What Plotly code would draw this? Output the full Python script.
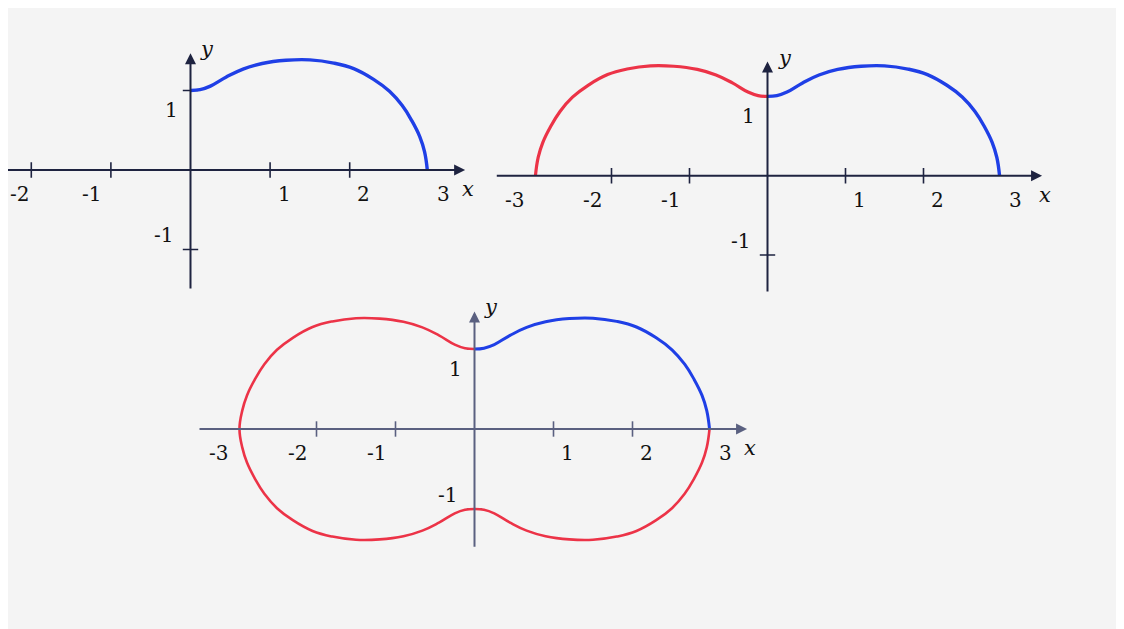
import plotly.graph_objects as go

# the page body adds an 8px margin, so the figure is drawn 8px smaller and shifted
OFF = 8
W, H = 1124 - OFF, 629 - OFF

# upper-right quarter of the curve
curve_x = [0.0, 0.12, 0.25, 0.45, 0.66, 0.9, 1.2, 1.5, 1.8, 2.05, 2.3, 2.5, 2.66, 2.78,
           2.88, 2.94, 2.975]
curve_y = [1.0, 1.01, 1.055, 1.17, 1.27, 1.34, 1.38, 1.385, 1.345, 1.275, 1.14, 0.99, 0.81, 0.62,
           0.42, 0.23, 0.0]

# tick positions / labels per panel
p1_xticks = [-2, -1, 1, 2]
p1_xlabels = ["-2", "-1", "1", "2", "3"]
p1_xlabel_pos = [-2, -1, 1, 2, 3]
p1_yticks = [1, -1]
p2_xticks = [-2, -1, 1, 2]
p2_xlabels = ["-3", "-2", "-1", "1", "2", "3"]
p2_xlabel_pos = [-3, -2, -1, 1, 2, 3]
p2_yticks = [-1]
p3_xticks = [-2, -1, 1, 2]
p3_xlabels = ["-3", "-2", "-1", "1", "2", "3"]
p3_xlabel_pos = [-3, -2, -1, 1, 2, 3]
p3_yticks = [1, -1]
ytick_labels = ["1", "-1"]
ytick_label_pos = [1, -1]

BLUE = "#1f3fe6"
RED = "#ec3347"
AX_DARK = "#1e2340"
AX_GRAY = "#5a6080"
FONT = "DejaVu Serif"

# panels: origin pixel (screen), unit sizes, data range, axis extents
panels = [
    dict(o=(190.5, 170), u=(79.6, 79.5), xr=[-2.29, 3.6], yr=[-1.6, 1.6],
         xa=(-2.35, 3.45), ya=(-1.51, 1.47), col=AX_DARK),
    dict(o=(767.5, 175.7), u=(78, 79.3), xr=[-3.6, 3.6], yr=[-1.55, 1.55],
         xa=(-3.49, 3.52), ya=(-1.48, 1.44), col=AX_DARK),
    dict(o=(474.5, 429), u=(79, 80), xr=[-3.6, 3.55], yr=[-1.6, 1.6],
         xa=(-3.5, 3.45), ya=(-1.49, 1.47), col=AX_GRAY),
]

fig = go.Figure()
layout = {}
annotations = []

for i, p in enumerate(panels, start=1):
    ox, oy = p["o"][0] - OFF, p["o"][1] - OFF
    ux, uy = p["u"]
    x0 = (ox + p["xr"][0] * ux) / W
    x1 = (ox + p["xr"][1] * ux) / W
    y0 = 1 - (oy - p["yr"][0] * uy) / H
    y1 = 1 - (oy - p["yr"][1] * uy) / H
    # keep the scale when a domain would spill past the paper
    if x0 < 0:
        p["xr"][0] = -ox / ux
        x0 = 0
    sfx = "" if i == 1 else str(i)
    layout["xaxis" + sfx] = dict(domain=[x0, min(1, x1)], range=p["xr"], visible=False,
                                 anchor="y" + sfx, fixedrange=True)
    layout["yaxis" + sfx] = dict(domain=[max(0, y0), min(1, y1)], range=p["yr"], visible=False,
                                 anchor="x" + sfx, fixedrange=True)
    xref, yref = "x" + sfx, "y" + sfx
    # axis lines with arrowheads
    annotations.append(dict(x=p["xa"][1], y=0, ax=p["xa"][0], ay=0, xref=xref, yref=yref,
                            axref=xref, ayref=yref, showarrow=True, arrowhead=2, arrowsize=1.1,
                            arrowwidth=2, arrowcolor=p["col"], text=""))
    annotations.append(dict(x=0, y=p["ya"][1], ax=0, ay=p["ya"][0], xref=xref, yref=yref,
                            axref=xref, ayref=yref, showarrow=True, arrowhead=2, arrowsize=1.1,
                            arrowwidth=2, arrowcolor=p["col"], text=""))
    # axis names
    annotations.append(dict(x=p["xa"][1], y=0, xref=xref, yref=yref, text="<i>x</i>",
                            showarrow=False, yshift=-19, xshift=3,
                            font=dict(family=FONT, size=21, color="#111")))
    annotations.append(dict(x=0, y=p["ya"][1], xref=xref, yref=yref, text="<i>y</i>",
                            showarrow=False, xshift=17, yshift=4,
                            font=dict(family=FONT, size=21, color="#111")))

# tick marks
def ticks(xt, yt, sfx, col):
    fig.add_trace(go.Scatter(x=xt, y=[0] * len(xt), xaxis="x" + sfx, yaxis="y" + sfx,
                             mode="markers", hoverinfo="skip", showlegend=False,
                             marker=dict(symbol="line-ns", size=11, line=dict(width=1.6, color=col))))
    fig.add_trace(go.Scatter(x=[0] * len(yt), y=yt, xaxis="x" + sfx, yaxis="y" + sfx,
                             mode="markers", hoverinfo="skip", showlegend=False,
                             marker=dict(symbol="line-ew", size=11, line=dict(width=1.6, color=col))))

ticks(p1_xticks, p1_yticks, "", AX_DARK)
ticks(p2_xticks, p2_yticks, "2", AX_DARK)
ticks(p3_xticks, p3_yticks, "3", AX_GRAY)

# tick labels
def tick_labels(labels, pos, sfx, left_edge=None):
    for t, v in zip(labels, pos):
        dx = 14 if v > 0 else -19
        if v == left_edge:
            dx = -12  # keep the clipped label on the page
        annotations.append(dict(x=v, y=0, xref="x" + sfx, yref="y" + sfx, text=t, showarrow=False,
                                xshift=dx, yshift=-24,
                                font=dict(family=FONT, size=20, color="#111")))
    for t, v in zip(ytick_labels, ytick_label_pos):
        annotations.append(dict(x=0, y=v, xref="x" + sfx, yref="y" + sfx, text=t, showarrow=False,
                                xshift=-19 if v > 0 else -27, yshift=-20 if v > 0 else 14,
                                font=dict(family=FONT, size=20, color="#111")))

tick_labels(p1_xlabels, p1_xlabel_pos, "", left_edge=-2)
tick_labels(p2_xlabels, p2_xlabel_pos, "2")
tick_labels(p3_xlabels, p3_xlabel_pos, "3")

# mirrored pieces of the curve
neg_x = [-v for v in curve_x]
neg_y = [-v for v in curve_y]

line_kw = dict(mode="lines", hoverinfo="skip", showlegend=False)
SM = 1.2

# panel 1: blue quarter
fig.add_trace(go.Scatter(x=curve_x, y=curve_y,
                         line=dict(color=BLUE, width=3.4, shape="spline", smoothing=SM), **line_kw))

# panel 2: red mirror + blue
fig.add_trace(go.Scatter(x=neg_x, y=curve_y, xaxis="x2", yaxis="y2",
                         line=dict(color=RED, width=3.2, shape="spline", smoothing=SM), **line_kw))
fig.add_trace(go.Scatter(x=curve_x, y=curve_y, xaxis="x2", yaxis="y2",
                         line=dict(color=BLUE, width=3.4, shape="spline", smoothing=SM), **line_kw))

# panel 3: full closed curve, red except the upper-right quarter
red_x = neg_x + neg_x[::-1][1:] + curve_x[1:]
red_y = curve_y + neg_y[::-1][1:] + neg_y[1:]
fig.add_trace(go.Scatter(x=red_x, y=red_y, xaxis="x3", yaxis="y3",
                         line=dict(color=RED, width=2.6, shape="spline", smoothing=SM), **line_kw))
fig.add_trace(go.Scatter(x=curve_x, y=curve_y, xaxis="x3", yaxis="y3",
                         line=dict(color=BLUE, width=3.0, shape="spline", smoothing=SM), **line_kw))

fig.update_layout(
    width=W, height=H,
    margin=dict(l=0, r=0, t=0, b=0),
    paper_bgcolor="#f4f4f4",
    plot_bgcolor="rgba(0,0,0,0)",
    annotations=annotations,
    **layout
)

fig.write_html("out.html")
